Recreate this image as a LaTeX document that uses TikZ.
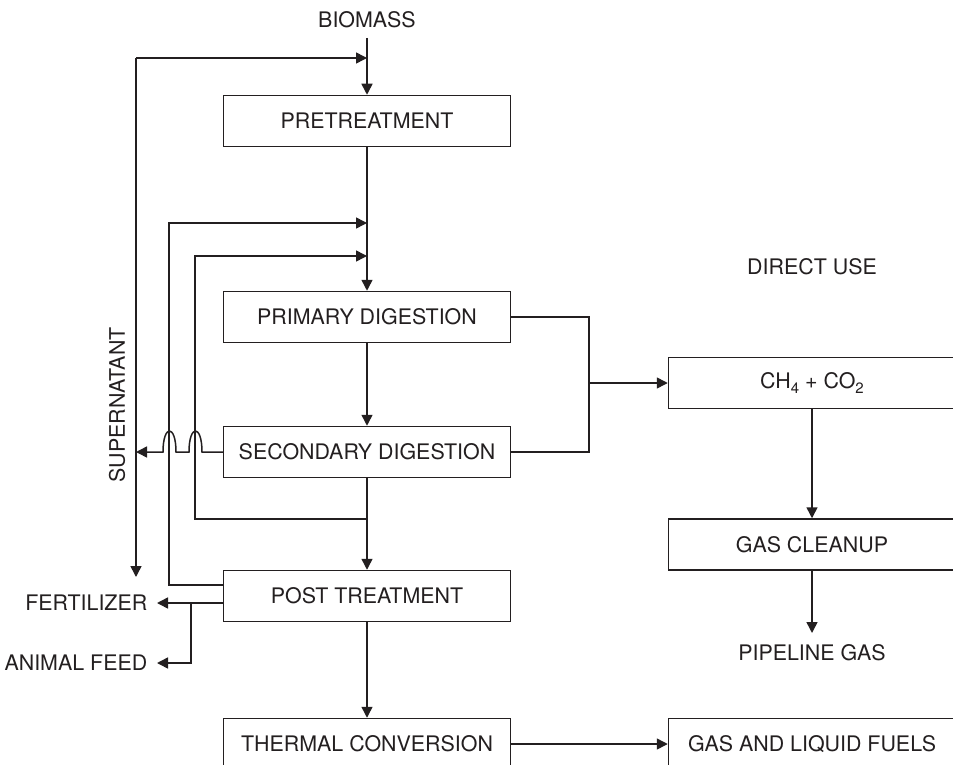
\documentclass[tikz,border=0pt]{standalone}
\usepackage{fontspec}
\setmainfont{TeX Gyre Heros}
\usetikzlibrary{arrows.meta}
\definecolor{ink}{HTML}{231F20}
\newcommand{\chemsub}[1]{\raisebox{-0.45ex}{\fontsize{7.5pt}{8pt}\selectfont #1}}
\begin{document}
\begin{tikzpicture}[x=0.5pt, y=-0.5pt,
  font=\fontsize{10.7pt}{12pt}\selectfont,
  color=ink, line width=0.75pt,
  flow/.style={-{Triangle[length=5.5pt, width=5.5pt]}},
  stage/.style={draw, rectangle, minimum width=143.5pt,
    minimum height=25.5pt, inner sep=0pt},
  tag/.style={inner sep=0pt}]
\useasboundingbox (0,0) rectangle (953,765);
\clip (0,0) rectangle (953,765);

% process stages
\node[stage] (pre)   at (367,121)   {PRETREATMENT};
\node[stage] (prim)  at (367,317)   {PRIMARY DIGESTION};
\node[stage] (sec)   at (367,452)   {SECONDARY DIGESTION};
\node[stage] (post)  at (367,596)   {POST TREATMENT};
\node[stage] (therm) at (367,744)   {THERMAL CONVERSION};
\node[stage] (gas)   at (812,383)   {CH\chemsub{4} + CO\chemsub{2}};
\node[stage] (clean) at (812,544.5) {GAS CLEANUP};
\node[stage] (fuels) at (812,744)   {GAS AND LIQUID FUELS};

% free labels
\node[tag] (bio)  at (367,20)  {BIOMASS};
\node[tag] (use)  at (812,267) {DIRECT USE};
\node[tag] (pipe) at (812,653) {PIPELINE GAS};
\node[tag, anchor=east] (fert) at (148,603) {FERTILIZER};
\node[tag, anchor=east] (feed) at (148,663) {ANIMAL FEED};
\node[tag, rotate=90] (sup) at (117,405) {SUPERNATANT};

% junction points
\coordinate (bioStart) at (367,38);
\coordinate (inTop)  at (367,58);
\coordinate (inA)    at (367,223);
\coordinate (inB)    at (367,256);
\coordinate (supTop) at (136,58);
\coordinate (supEnd) at (136,577);
\coordinate (supIn)  at (136,452);
\coordinate (junB)   at (367,519);
\coordinate (split)  at (589,383);
\coordinate (pipeEnd) at (812,633);
\coordinate (fertEnd) at (157,603);
\coordinate (feedEnd) at (157,663);
\coordinate (branch) at (191,603);

% main column
\draw[flow] (bioStart) -- (pre.north);
\draw[flow] (pre.south) -- (prim.north);
\draw[flow] (prim.south) -- (sec.north);
\draw[flow] (sec.south) -- (post.north);
\draw[flow] (post.south) -- (therm.north);
\draw[flow] (therm.east |- fuels.west) -- (fuels.west);

% supernatant return loop
\draw[flow] (supTop) -- (inTop);
\draw[flow] (supTop) -- (supEnd);
\draw[flow] (sec.west) -- (202,452)
  .. controls (202,424) and (189,424) .. (189,452) -- (176,452)
  .. controls (176,424) and (163,424) .. (163,452) -- (supIn);

% sludge recycle loops
\draw[flow] (post.west |- 0,585) -- (169,585) -- (169,223) -- (inA);
\draw[flow] (junB) -- (195,519) -- (195,256) -- (inB);

% gas collection
\draw (prim.east) -- (589,317) -- (589,452) -- (sec.east);
\draw[flow] (split) -- (gas.west);
\draw[flow] (gas.south) -- (clean.north);
\draw[flow] (clean.south) -- (pipeEnd);

% solid products
\draw[flow] (post.west |- fertEnd) -- (fertEnd);
\draw[flow] (branch) -- (191,663) -- (feedEnd);
\end{tikzpicture}
\end{document}
